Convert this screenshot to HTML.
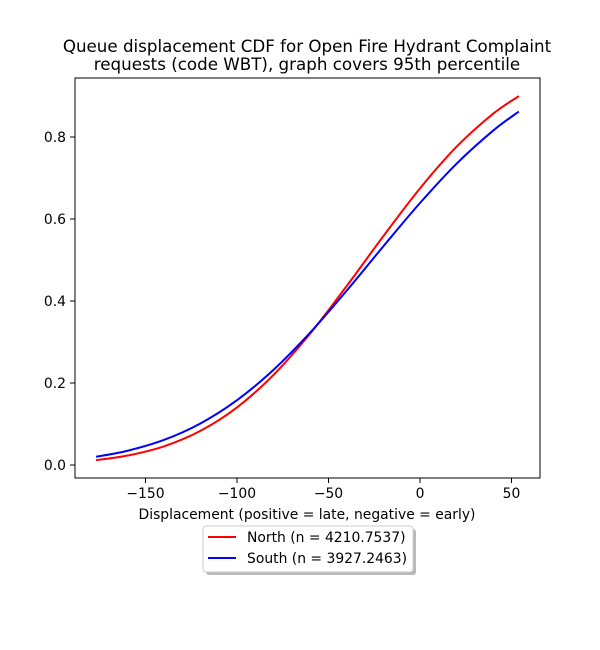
<!DOCTYPE html>
<html><head><meta charset="utf-8"><style>
body{margin:0;background:#fff;}
svg{display:block;font-family:"DejaVu Sans","Liberation Sans",sans-serif;}
</style></head><body>
<svg id="chart" width="600" height="650" viewBox="0 0 600 650">
<rect width="600" height="650" fill="#fff"/>
<text x="307" y="52" font-size="16.7" text-anchor="middle">Queue displacement CDF for Open Fire Hydrant Complaint</text>
<text x="307" y="70" font-size="16.7" text-anchor="middle">requests (code WBT), graph covers 95th percentile</text>
<g id="plot"></g>
<rect x="75" y="78" width="465" height="400" fill="none" stroke="#000" stroke-width="1"/>
<text x="307" y="519" font-size="13.9" text-anchor="middle">Displacement (positive = late, negative = early)</text>
<g>
<rect x="206" y="529" width="210" height="46" rx="3" fill="#888" opacity="0.6"/>
<rect x="203" y="526" width="210" height="46" rx="3" fill="#fff" stroke="#ccc"/>
<line x1="208" y1="537" x2="236" y2="537" stroke="#f00" stroke-width="2"/>
<text x="247" y="542" font-size="13.9">North (n = 4210.7537)</text>
<line x1="208" y1="558" x2="236" y2="558" stroke="#00f" stroke-width="2"/>
<text x="247" y="563" font-size="13.9">South (n = 3927.2463)</text>
</g>
</svg>
<script>
const xValues=[-177,-160,-140,-120,-100,-80,-60,-40,-20,0,20,40,54];
const northValues=[0.012,0.0229,0.0454,0.0832,0.1405,0.220,0.3207,0.4368,0.5584,0.6748,0.7763,0.8568,0.8997];
const southValues=[0.0202,0.0345,0.0610,0.1013,0.158,0.2324,0.323,0.4256,0.5336,0.639,0.735,0.8157,0.862];
const xTicks=[-150,-100,-50,0,50];
const yTicks=[0.0,0.2,0.4,0.6,0.8];
const xs=v=>420+v*1.83;
const ys=v=>465-v*410;
const NS='http://www.w3.org/2000/svg';
const g=document.getElementById('plot');
function mk(t,a){const e=document.createElementNS(NS,t);for(const k in a)e.setAttribute(k,a[k]);g.appendChild(e);return e;}
xTicks.forEach(t=>{
 const l=mk('line',{x1:xs(t),x2:xs(t),y1:478,y2:483,stroke:'#000'});
 
 
 const tx=mk('text',{x:xs(t),y:498,'font-size':13.9,'text-anchor':'middle'});
 tx.textContent=(t<0?'\u2212'+(-t):t);
 
 
});
yTicks.forEach(t=>{
 const l=mk('line',{x1:70,x2:75,y1:ys(t),y2:ys(t),stroke:'#000'});
 
 
 const tx=mk('text',{x:66,y:ys(t)+5,'font-size':13.9,'text-anchor':'end'});
 tx.textContent=t.toFixed(1);
 
 
});
function path(vals){
 const p=xValues.map((x,i)=>[xs(x),ys(vals[i])]);
 let d='M'+p[0][0]+','+p[0][1];
 for(let i=0;i<p.length-1;i++){
  const p0=p[Math.max(0,i-1)],p1=p[i],p2=p[i+1],p3=p[Math.min(p.length-1,i+2)];
  const c1=[p1[0]+(p2[0]-p0[0])/6,p1[1]+(p2[1]-p0[1])/6];
  const c2=[p2[0]-(p3[0]-p1[0])/6,p2[1]-(p3[1]-p1[1])/6];
  d+=' C'+c1+' '+c2+' '+p2;
 }
 return d;
}
const n=mk('path',{d:path(northValues),fill:'none',stroke:'#f00','stroke-width':2});


const s=mk('path',{d:path(southValues),fill:'none',stroke:'#00f','stroke-width':2});


</script>
</body></html>
